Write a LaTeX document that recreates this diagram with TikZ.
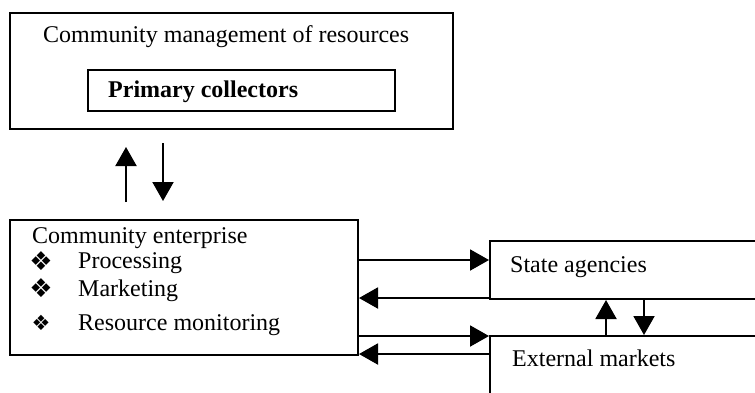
\documentclass[tikz,border=0pt]{standalone}
\usepackage{fontspec}
\setmainfont{Liberation Serif}
\newfontfamily\dejavu{DejaVu Sans}
\usetikzlibrary{arrows.meta}

\tikzset{
  boxstyle/.style={draw, line width=2pt, rectangle, inner sep=0pt},
  label/.style={anchor=base west, inner sep=0pt, font=\fontsize{24}{28}\selectfont},
  bulletsym/.style={inner sep=0pt, font=\dejavu\fontsize{26}{26}\selectfont},
  flow/.style={line width=2pt, -{Triangle[length=19pt,width=21pt]}},
}

\begin{document}
\begin{tikzpicture}[x=1pt, y=-1pt]
  \useasboundingbox (0,0) rectangle (755,392);
  \clip (0,0) rectangle (755,392);

  % upper block: community management
  \node[boxstyle, minimum width=443pt, minimum height=116pt] (cm) at (231.5,71) {};
  \node[label] (cmtext) at (43,42) {Community management of resources};
  \node[boxstyle, minimum width=307pt, minimum height=41pt] (pc) at (241.5,90.5) {};
  \node[label, font=\fontsize{24}{28}\selectfont\bfseries] (pctext) at (108,97) {Primary collectors};

  % community enterprise
  \node[boxstyle, minimum width=348pt, minimum height=135pt] (ce) at (184,287.5) {};
  \node[label] (cetext) at (32,243) {Community enterprise};
  \node[bulletsym] (b1) at (41,261) {❖};
  \node[bulletsym] (b2) at (41,288) {❖};
  \node[bulletsym, font=\dejavu\fontsize{21}{21}\selectfont] (b3) at (41,323) {❖};
  \node[label] (t1) at (78,268) {Processing};
  \node[label] (t2) at (78,296) {Marketing};
  \node[label] (t3) at (78,330) {Resource monitoring};

  % state agencies and external markets (running past the right edge)
  \node[boxstyle, minimum width=320pt, minimum height=58pt] (sa) at (650,270) {};
  \node[label] (satext) at (510,272) {State agencies};
  \node[boxstyle, minimum width=320pt, minimum height=100pt] (em) at (650,386) {};
  \node[label] (emtext) at (512,366) {External markets};

  % vertical exchange between the upper block and the enterprise
  \coordinate (upS) at (126,202);
  \coordinate (upE) at (126,147);
  \coordinate (dnS) at (163,143);
  \coordinate (dnE) at (163,201);
  \draw[flow] (upS) -- (upE);
  \draw[flow] (dnS) -- (dnE);

  % horizontal exchanges
  \coordinate (h1) at (0,260);
  \coordinate (h2) at (0,298);
  \coordinate (h3) at (0,336);
  \coordinate (h4) at (0,354);
  \draw[flow] (ce.east |- h1) -- (sa.west |- h1);
  \draw[flow] (sa.west |- h2) -- (ce.east |- h2);
  \draw[flow] (ce.east |- h3) -- (em.west |- h3);
  \draw[flow] (em.west |- h4) -- (ce.east |- h4);

  % exchange between state agencies and external markets
  \coordinate (vu) at (606,0);
  \coordinate (vd) at (644,0);
  \draw[flow] (em.north -| vu) -- (sa.south -| vu);
  \draw[flow] (sa.south -| vd) -- (em.north -| vd);
\end{tikzpicture}
\end{document}
